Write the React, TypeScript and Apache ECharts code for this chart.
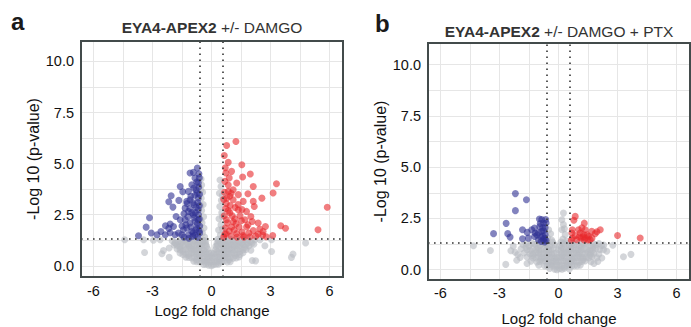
import React, { useEffect, useRef } from "react";
import * as echarts from "echarts";

// ---------- axes / thresholds ----------
const xTicks = [-6, -3, 0, 3, 6];
const xMinor = [-4.5, -1.5, 1.5, 4.5];
const yTicks = [0, 2.5, 5, 7.5, 10];
const yMinor = [1.25, 3.75, 6.25, 8.75];
const fcCut = 0.585;
const pCut = 1.3;
const xRange = [-6.63, 6.68];
const yRangeA = [-0.55, 11.0];
const yRangeB = [-0.5, 11.05];

const panelLabels = ["a", "b"];
const titleBold = "EYA4-APEX2";
const titleRest = ["+/- DAMGO", "+/- DAMGO + PTX"];
const xName = "Log2 fold change";
const yName = "-Log 10 (p-value)";

// ---------- panel a ----------
const aBlue = [
  [-3.71, 1.47], [-3.32, 1.89], [-3.15, 2.35], [-3.06, 1.6], [-2.57, 1.68], [-2.77, 1.52],
  [-2.34, 1.96], [-2.17, 1.83], [-2.1, 2.04], [-2.17, 3.13], [-2.05, 3.43], [-1.59, 3.88],
  [-1.96, 2.87], [-1.66, 3.2], [-1.46, 3.62], [-1.8, 2.41], [-1.59, 2.25], [-1.93, 1.92],
  [-1.68, 1.6], [-1.43, 1.76], [-1.34, 2.82], [-1.26, 3.15], [-1.09, 4.54], [-0.92, 4.57],
  [-0.72, 4.78], [-0.84, 4.29], [-1.0, 3.96], [-1.17, 3.64], [-0.78, 3.72], [-0.67, 4.05],
  [-1.09, 3.23], [-0.89, 2.99], [-0.67, 3.31], [-1.17, 2.66], [-0.92, 2.5], [-0.67, 2.74],
  [-1.34, 2.25], [-1.09, 2.09], [-0.84, 2.17], [-0.62, 2.29], [-1.26, 1.85], [-1.0, 1.68],
  [-0.75, 1.85], [-0.6, 1.6], [-1.51, 1.52], [-1.17, 1.52], [-0.84, 1.5], [-1.85, 1.52],
  [-2.35, 1.52], [-2.1, 1.62], [-0.6, 1.95], [-0.62, 2.95], [-0.61, 3.5], [-0.62, 4.3],
  [-0.7, 1.4], [-0.8, 1.75], [-0.95, 1.45], [-1.05, 1.9], [-0.72, 2.05], [-0.88, 2.35],
  [-1.0, 2.6], [-0.66, 2.5], [-0.78, 2.85], [-0.95, 3.1], [-0.7, 3.1], [-0.85, 3.45],
  [-1.05, 3.4], [-0.65, 3.85], [-0.9, 3.8], [-0.75, 4.1], [-1.2, 2.4], [-1.3, 2.0],
  [-1.4, 1.4], [-1.15, 1.35], [-1.5, 1.95], [-1.25, 3.05], [-1.4, 2.55], [-0.63, 1.7],
  [-0.68, 2.25], [-0.82, 2.6], [-0.93, 1.6], [-1.1, 2.8], [-0.73, 3.55], [-0.64, 4.5],
];

const aRed = [
  [1.24, 6.08], [0.77, 5.89], [0.65, 5.4], [0.85, 5.06], [1.54, 4.94], [1.97, 4.49],
  [1.58, 4.34], [1.02, 4.62], [1.28, 4.05], [2.12, 3.88], [3.3, 4.01], [3.13, 3.56],
  [1.85, 3.52], [2.56, 3.31], [2.12, 3.15], [2.17, 2.9], [5.88, 2.86], [5.41, 1.76],
  [3.52, 1.96], [3.76, 1.84], [3.11, 1.48], [2.74, 1.92], [2.62, 1.68], [2.37, 2.09],
  [2.0, 2.41], [2.07, 2.17], [1.78, 2.66], [1.36, 2.74], [1.1, 3.23], [0.85, 3.64],
  [0.68, 4.13], [0.73, 4.54], [1.1, 3.72], [0.93, 3.4], [1.36, 3.48], [1.61, 3.15],
  [0.75, 3.05], [0.93, 2.6], [1.19, 2.3], [1.52, 2.2], [1.78, 1.9], [2.12, 1.72],
  [2.37, 1.55], [0.76, 2.25], [1.02, 1.9], [1.28, 1.58], [1.61, 1.48], [1.95, 1.42],
  [2.78, 1.42], [0.68, 1.55], [0.62, 1.4], [0.7, 1.85], [0.8, 2.1], [0.65, 2.45],
  [0.72, 2.8], [0.62, 3.25], [0.85, 3.95], [0.95, 2.95], [1.05, 2.45], [1.15, 1.75],
  [1.25, 2.05], [1.4, 1.9], [1.45, 2.45], [1.55, 1.65], [1.7, 2.25], [1.85, 2.0],
  [1.0, 1.45], [0.9, 1.7], [1.3, 1.4], [1.65, 1.4], [0.78, 3.3], [1.2, 2.85],
  [1.0, 3.55], [0.66, 3.6], [0.9, 4.3], [0.7, 4.8], [1.35, 3.0], [1.55, 2.75],
  [1.9, 1.6], [2.25, 1.45], [2.45, 1.8], [2.6, 1.5], [0.75, 1.55], [1.1, 2.15], [0.85, 2.7],
];

const aGray = [
  // cloud below the p threshold
  [-2.0, 1.22], [-1.7, 1.16], [-1.4, 1.25], [-1.1, 1.18], [-0.85, 1.24], [-0.6, 1.15],
  [-0.35, 1.22], [0.35, 1.2], [0.6, 1.26], [0.85, 1.17], [1.1, 1.23], [1.4, 1.15],
  [1.7, 1.25], [2.0, 1.19], [2.2, 1.27],
  [-1.9, 1.02], [-1.6, 0.96], [-1.3, 1.05], [-1.0, 0.98], [-0.75, 1.04], [-0.5, 0.97],
  [-0.3, 1.03], [0.3, 1.0], [0.5, 1.05], [0.75, 0.96], [1.0, 1.03], [1.3, 0.98],
  [1.6, 1.04], [1.9, 0.97], [2.15, 1.05],
  [-1.75, 0.82], [-1.45, 0.77], [-1.15, 0.84], [-0.9, 0.78], [-0.65, 0.83], [-0.4, 0.76],
  [-0.2, 0.82], [0.2, 0.79], [0.4, 0.84], [0.65, 0.77], [0.9, 0.82], [1.15, 0.78],
  [1.45, 0.85], [1.75, 0.8], [2.0, 0.76],
  [-1.6, 0.62], [-1.3, 0.57], [-1.0, 0.63], [-0.75, 0.58], [-0.5, 0.61], [-0.25, 0.56],
  [0.0, 0.62], [0.25, 0.58], [0.5, 0.63], [0.75, 0.57], [1.0, 0.61], [1.3, 0.59], [1.6, 0.64],
  [-1.3, 0.42], [-1.0, 0.38], [-0.7, 0.43], [-0.45, 0.37], [-0.2, 0.41], [0.05, 0.39],
  [0.3, 0.44], [0.55, 0.38], [0.8, 0.42], [1.1, 0.37], [1.4, 0.43],
  [-0.9, 0.22], [-0.6, 0.18], [-0.35, 0.23], [-0.1, 0.19], [0.15, 0.21], [0.4, 0.17],
  [0.65, 0.23], [0.95, 0.2],
  [-0.4, 0.06], [-0.15, 0.03], [0.1, 0.05], [0.35, 0.07],
  [-1.85, 1.12], [-1.55, 1.1], [-1.25, 1.12], [-0.95, 1.1], [-0.7, 1.12], [-0.45, 1.1],
  [0.45, 1.12], [0.7, 1.1], [0.95, 1.12], [1.25, 1.1], [1.55, 1.12], [1.85, 1.1],
  [-1.6, 0.9], [-1.15, 0.92], [-0.6, 0.9], [0.6, 0.9], [1.15, 0.92], [1.7, 0.9],
  [-1.45, 0.7], [-0.85, 0.7], [-0.3, 0.7], [0.3, 0.7], [0.85, 0.7], [1.45, 0.7],
  [-1.15, 0.5], [-0.6, 0.5], [0.0, 0.5], [0.65, 0.5], [1.2, 0.5],
  [-0.75, 0.3], [-0.2, 0.3], [0.4, 0.3], [0.9, 0.3],
  [-1.55, 1.28], [-1.25, 1.29], [-0.95, 1.28], [-0.7, 1.29], [0.7, 1.28], [0.95, 1.29],
  [1.25, 1.28], [1.55, 1.29], [1.85, 1.28], [-1.75, 1.0], [-1.45, 1.01], [-1.15, 0.99],
  [-0.88, 0.98], [-0.62, 1.0], [0.62, 1.0], [0.88, 0.98], [1.15, 1.01], [1.45, 1.0],
  [1.75, 1.02], [2.05, 1.1], [-1.6, 0.78], [-1.3, 0.8], [-1.02, 0.81], [-0.78, 0.8],
  [-0.52, 0.79], [0.52, 0.8], [0.78, 0.81], [1.02, 0.79], [1.3, 0.8], [1.6, 0.78],
  [-1.45, 0.55], [-1.15, 0.6], [-0.88, 0.61], [-0.62, 0.59], [-0.38, 0.6], [-0.12, 0.62],
  [0.12, 0.6], [0.38, 0.61], [0.62, 0.59], [0.88, 0.6], [1.15, 0.62], [1.45, 0.55],
  [-1.15, 0.4], [-0.85, 0.41], [-0.58, 0.39], [-0.32, 0.4], [-0.08, 0.42], [0.18, 0.4],
  [0.42, 0.39], [0.68, 0.41], [0.95, 0.4], [1.25, 0.38], [-0.75, 0.2], [-0.48, 0.21],
  [-0.22, 0.19], [0.02, 0.2], [0.28, 0.22], [0.52, 0.2], [0.8, 0.19], [-0.28, 0.08],
  [0.0, 0.0], [0.22, 0.08],
  // arms (small fold change, higher significance)
  [-0.5, 3.95], [-0.45, 3.6], [-0.52, 3.3], [-0.42, 3.0], [-0.5, 2.7], [-0.4, 2.4],
  [-0.48, 2.1], [-0.38, 1.85], [-0.46, 1.6], [-0.35, 1.4], [-0.55, 3.7], [-0.55, 2.95],
  [-0.55, 2.25], [-0.55, 1.75], [-0.3, 1.15], [-0.25, 0.95], [-0.44, 1.25], [-0.53, 4.25],
  [0.43, 4.2], [0.48, 3.88], [0.4, 3.55], [0.5, 3.2], [0.42, 2.9], [0.52, 2.6],
  [0.38, 2.3], [0.48, 2.0], [0.36, 1.75], [0.45, 1.5], [0.32, 1.3], [0.55, 3.45],
  [0.55, 2.4], [0.55, 1.8], [0.28, 1.1], [0.22, 0.95],
  // scattered
  [-4.41, 1.27], [-3.4, 0.65], [-2.52, 0.59], [-2.44, 0.75], [-2.15, 0.41], [-3.45, 1.27],
  [-2.95, 1.25], [-2.61, 1.27], [-2.15, 0.87], [-1.85, 1.11], [2.71, 0.98], [3.05, 0.7],
  [2.24, 0.24], [2.07, 0.26], [4.14, 0.57], [4.06, 0.41], [4.78, 1.11], [2.46, 1.27],
  [3.05, 1.27],
];

// ---------- panel b ----------
const bBlue = [
  [-2.19, 3.71], [-1.63, 3.41], [-2.19, 2.88], [-2.66, 2.26], [-3.3, 1.76], [-2.58, 1.76],
  [-2.46, 1.59], [-1.83, 1.95], [-1.59, 1.82], [-1.83, 1.51], [-1.22, 2.03], [-0.97, 2.47],
  [-0.76, 2.28], [-0.93, 2.25], [-1.53, 1.54], [-1.22, 1.62], [-1.02, 1.8], [-0.85, 1.88],
  [-0.8, 1.63], [-0.68, 1.72], [-1.02, 1.46], [-0.76, 1.46], [-1.19, 1.79], [-0.68, 2.05],
  [-0.63, 2.28], [-1.36, 1.95], [-0.85, 2.45], [-0.63, 1.42],
  [-0.7, 1.55], [-0.9, 1.6], [-0.75, 1.9], [-0.95, 2.1], [-0.65, 2.45], [-0.8, 2.05],
  [-0.7, 1.35], [-1.1, 1.7], [-0.88, 1.38],
];

const bRed = [
  [0.85, 2.6], [0.78, 2.41], [1.31, 2.27], [1.02, 1.95], [1.36, 1.95], [1.69, 1.87],
  [2.12, 1.95], [1.95, 1.85], [1.86, 1.76], [3.0, 1.67], [4.15, 1.55], [0.68, 1.79],
  [0.85, 1.67], [1.1, 1.79], [1.36, 1.55], [1.53, 1.63], [1.27, 1.72], [1.61, 1.46],
  [0.71, 1.55], [0.93, 1.46], [1.19, 2.04], [1.7, 1.54],
  [1.3, 1.45], [1.45, 1.7], [1.15, 1.55], [1.5, 1.45], [1.25, 1.6], [0.65, 1.45],
  [0.7, 1.95], [1.05, 1.6],
];

const bGray = [
  [-1.8, 1.22], [-1.5, 1.16], [-1.2, 1.25], [-0.95, 1.18], [-0.7, 1.24], [-0.45, 1.15],
  [-0.2, 1.22], [0.05, 1.17], [0.3, 1.25], [0.55, 1.18], [0.8, 1.23], [1.05, 1.16],
  [1.3, 1.24], [1.6, 1.17], [1.9, 1.22], [2.2, 1.18],
  [-1.9, 1.02], [-1.6, 0.97], [-1.3, 1.04], [-1.0, 0.96], [-0.75, 1.03], [-0.5, 0.98],
  [-0.25, 1.05], [0.0, 0.97], [0.25, 1.02], [0.5, 0.96], [0.75, 1.04], [1.0, 0.98],
  [1.3, 1.03], [1.6, 0.97], [1.9, 1.05], [2.1, 0.99],
  [-1.75, 0.82], [-1.45, 0.77], [-1.15, 0.84], [-0.9, 0.78], [-0.6, 0.83], [-0.35, 0.76],
  [-0.1, 0.82], [0.15, 0.79], [0.4, 0.84], [0.65, 0.77], [0.9, 0.82], [1.2, 0.78],
  [1.5, 0.85], [1.8, 0.8], [2.05, 0.76],
  [-1.6, 0.62], [-1.3, 0.57], [-1.0, 0.63], [-0.7, 0.58], [-0.45, 0.61], [-0.2, 0.56],
  [0.05, 0.62], [0.3, 0.58], [0.55, 0.63], [0.8, 0.57], [1.1, 0.61], [1.4, 0.59],
  [1.7, 0.64], [1.95, 0.58],
  [-1.4, 0.42], [-1.1, 0.38], [-0.8, 0.43], [-0.5, 0.37], [-0.25, 0.41], [0.0, 0.39],
  [0.25, 0.44], [0.5, 0.38], [0.75, 0.42], [1.05, 0.37], [1.35, 0.43], [1.65, 0.39],
  [-1.0, 0.22], [-0.7, 0.18], [-0.45, 0.23], [-0.2, 0.19], [0.05, 0.21], [0.3, 0.17],
  [0.55, 0.23], [0.8, 0.2], [1.1, 0.22],
  [-0.45, 0.06], [-0.2, 0.03], [0.05, 0.05], [0.3, 0.07], [0.55, 0.04],
  [-1.65, 1.1], [-1.05, 1.1], [-0.55, 1.1], [0.15, 1.1], [0.65, 1.1], [1.15, 1.1],
  [1.75, 1.1], [-1.3, 0.7], [-0.6, 0.7], [0.2, 0.7], [1.0, 0.7], [1.6, 0.7],
  [-0.9, 0.5], [-0.1, 0.5], [0.7, 0.5], [1.25, 0.5], [-0.35, 0.3], [0.45, 0.3],
  [-1.65, 1.28], [-1.35, 1.29], [-1.05, 1.28], [-0.8, 1.29], [-0.55, 1.28], [0.2, 1.29],
  [0.45, 1.28], [0.7, 1.29], [0.95, 1.28], [1.2, 1.29], [1.45, 1.28], [1.75, 1.29],
  [2.05, 1.28], [-1.45, 0.95], [-1.15, 0.97], [-0.88, 0.95], [-0.62, 0.96], [-0.38, 0.95],
  [0.12, 0.96], [0.38, 0.95], [0.62, 0.97], [0.88, 0.95], [1.15, 0.96], [1.45, 0.95],
  [1.75, 0.96], [-1.3, 0.78], [-1.0, 0.8], [-0.75, 0.79], [-0.48, 0.8], [-0.22, 0.79],
  [0.28, 0.8], [0.52, 0.79], [0.78, 0.8], [1.05, 0.81], [1.35, 0.79], [1.65, 0.8],
  [-1.15, 0.58], [-0.85, 0.6], [-0.58, 0.59], [-0.32, 0.6], [-0.08, 0.6], [0.18, 0.61],
  [0.42, 0.6], [0.68, 0.59], [0.95, 0.6], [1.25, 0.6], [1.55, 0.58], [-0.95, 0.4],
  [-0.65, 0.41], [-0.38, 0.4], [-0.12, 0.4], [0.12, 0.41], [0.38, 0.4], [0.62, 0.39],
  [0.9, 0.4], [1.2, 0.4], [-0.58, 0.2], [-0.32, 0.21], [-0.08, 0.2], [0.18, 0.2],
  [0.42, 0.21], [0.68, 0.2], [0.95, 0.2], [-0.08, 0.0], [0.18, 0.02],
  // arms
  [-0.5, 1.95], [-0.4, 1.75], [-0.55, 1.55], [-0.35, 1.45], [-0.3, 1.35],
  [0.25, 2.76], [0.17, 2.44], [0.25, 2.2], [0.17, 1.95], [0.34, 1.71], [0.22, 1.5],
  [0.4, 1.4], [0.12, 1.35], [0.3, 2.0],
  // scattered
  [-4.32, 1.17], [-3.46, 0.94], [-2.68, 0.26], [-2.42, 0.93], [-2.12, 0.46], [-2.07, 0.74],
  [2.76, 1.19], [3.3, 0.63], [3.68, 0.75], [2.29, 0.98], [2.2, 0.57],
  [-2.3, 1.15], [-2.2, 0.85], [-1.95, 0.6], [2.3, 1.2], [2.45, 0.9], [2.0, 0.4],
  [1.8, 0.3], [-1.6, 0.3],
];

// ---------- styling / layout ----------
const FONT = '"Liberation Sans", Arial, Helvetica, sans-serif';
const GRAY = "#b8bcc1";
const BLUE = "#2e3192";
const RED = "#e8282c";
const BORDER = "#434b4b";
const GRIDLINE = "#e6e6e6";

const layouts = [
  { left: 81, top: 41, width: 262, height: 236, yRange: yRangeA, xGap: 26, yGap: 34, titleY: 27, tagX: 11, tagY: 21.6, labelMargin: 6 },
  { left: 428, top: 43, width: 262, height: 237, yRange: yRangeB, xGap: 31, yGap: 36, titleY: 31.2, tagX: 375, tagY: 23.6, labelMargin: 5 },
];

const panels = [
  { gray: aGray, blue: aBlue, red: aRed },
  { gray: bGray, blue: bBlue, red: bRed },
];

function buildOption() {
  const grid: any[] = [];
  const xAxis: any[] = [];
  const yAxis: any[] = [];
  const series: any[] = [];
  const graphic: any[] = [];

  layouts.forEach((L, i) => {
    grid.push({ left: L.left, top: L.top, width: L.width, height: L.height, show: false, outerBoundsMode: "none", containLabel: false });
    xAxis.push({
      gridIndex: i, type: "value", min: xRange[0], max: xRange[1],
      splitLine: { show: false }, axisLine: { show: false },
      axisTick: { show: true, customValues: xTicks, length: 3, lineStyle: { color: "#333", width: 1 } },
      axisLabel: { customValues: xTicks, color: "#111", fontSize: 14.5, fontFamily: FONT, margin: L.labelMargin, formatter: (v: number) => String(v) },
      name: xName, nameLocation: "middle", nameGap: L.xGap,
      nameTextStyle: { color: "#111", fontSize: 15, fontFamily: FONT },
    });
    yAxis.push({
      gridIndex: i, type: "value", min: L.yRange[0], max: L.yRange[1],
      splitLine: { show: false }, axisLine: { show: false },
      axisTick: { show: true, customValues: yTicks, length: 3, lineStyle: { color: "#333", width: 1 } },
      axisLabel: { customValues: yTicks, color: "#111", fontSize: 14.5, fontFamily: FONT, margin: 7, formatter: (v: number) => v.toFixed(1) },
      name: yName, nameLocation: "middle", nameGap: L.yGap,
      nameTextStyle: { color: "#111", fontSize: 16, fontFamily: FONT },
    });

    const gridLines = [...xTicks, ...xMinor].map((v) => ({ xAxis: v }))
      .concat([...yTicks, ...yMinor].map((v) => ({ yAxis: v })) as any);
    series.push({
      type: "scatter", data: [], xAxisIndex: i, yAxisIndex: i, silent: true, z: 1,
      markLine: {
        silent: true, symbol: ["none", "none"], z: 1, animation: false,
        label: { show: false }, emphasis: { disabled: true },
        lineStyle: { color: GRIDLINE, width: 1, type: "solid" },
        data: gridLines,
      },
    });

    const P = panels[i];
    const mk = (data: number[][], color: string, z: number, opacity: number) => ({
      type: "scatter", data, xAxisIndex: i, yAxisIndex: i, silent: true, z,
      symbol: "circle", symbolSize: 7,
      itemStyle: { color, opacity },
    });
    series.push(mk(P.gray, GRAY, 3, 0.62));
    series.push(mk(P.blue, BLUE, 4, 0.6));
    series.push(mk(P.red, RED, 5, 0.6));

    series.push({
      type: "scatter", data: [], xAxisIndex: i, yAxisIndex: i, silent: true, z: 10,
      markLine: {
        silent: true, symbol: ["none", "none"], z: 10, animation: false,
        label: { show: false }, emphasis: { disabled: true },
        lineStyle: { color: "#333", width: 1.6, type: [1.6, 4.4] },
        data: [{ xAxis: -fcCut }, { xAxis: fcCut }, { yAxis: pCut }],
      },
    });

    graphic.push({
      type: "rect", silent: true, z: 100,
      shape: { x: L.left, y: L.top, width: L.width, height: L.height },
      style: { fill: "none", stroke: BORDER, lineWidth: 2 },
    });
    graphic.push({
      type: "text", silent: true, z: 100, x: L.left + L.width / 2, y: L.titleY,
      style: {
        text: `{b|${titleBold}} {n|${titleRest[i]}}`,
        align: "center", verticalAlign: "middle",
        font: `15.5px ${FONT}`, fill: "#333",
        rich: {
          b: { fontWeight: "bold", fontSize: 15.5, fontFamily: FONT, fill: "#333" },
          n: { fontWeight: "normal", fontSize: 15.5, fontFamily: FONT, fill: "#333" },
        },
      },
    });
    graphic.push({
      type: "text", silent: true, z: 100, x: L.tagX, y: L.tagY,
      style: { text: panelLabels[i], font: `bold 24px ${FONT}`, fill: "#1a1a1a", align: "left", verticalAlign: "middle" },
    });
  });

  return { animation: false, backgroundColor: "#ffffff", grid, xAxis, yAxis, series, graphic };
}

export default function App() {
  const ref = useRef<HTMLDivElement>(null);
  useEffect(() => {
    if (!ref.current) return;
    const chart = echarts.init(ref.current, null, { renderer: "svg" });
    chart.setOption(buildOption() as any);
    return () => chart.dispose();
  }, []);
  return <div ref={ref} style={{ position: "absolute", left: 0, top: 0, width: 691, height: 327 }} />;
}
